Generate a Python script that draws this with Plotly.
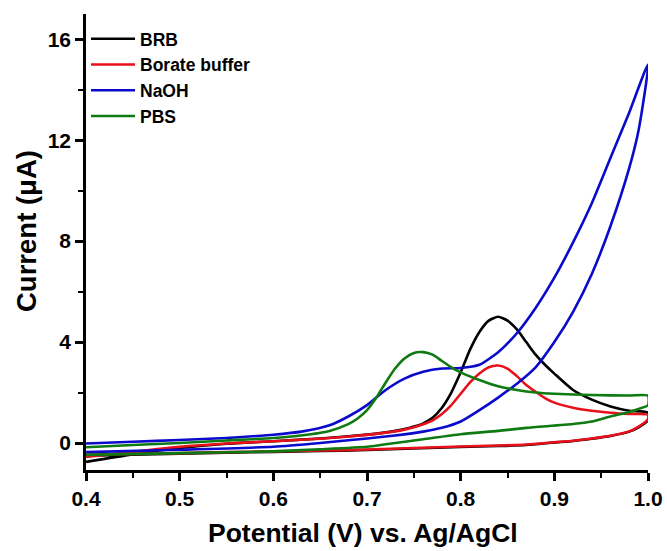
import plotly.graph_objects as go

# ---- data ----
brb_x = [0.40, 0.45, 0.50, 0.55, 0.60, 0.65, 0.70, 0.72, 0.74, 0.75, 0.76, 0.77, 0.78, 0.79, 0.80, 0.81, 0.82,
         0.83, 0.84, 0.85, 0.86, 0.87, 0.88, 0.89, 0.90, 0.92, 0.94, 0.96, 0.98, 1.00,
         1.00, 0.99, 0.98, 0.96, 0.94, 0.92, 0.90, 0.87, 0.84, 0.80, 0.75, 0.70, 0.65, 0.60, 0.55, 0.50, 0.45, 0.40]
brb_y = [-0.75, -0.45, -0.20, -0.03, 0.07, 0.18, 0.33, 0.42, 0.55, 0.65, 0.78, 1.00, 1.40, 2.00, 2.80, 3.70, 4.40,
         4.85, 5.00, 4.85, 4.50, 4.00, 3.50, 3.10, 2.75, 2.10, 1.72, 1.45, 1.28, 1.20,
         0.90, 0.62, 0.45, 0.28, 0.17, 0.08, 0.02, -0.08, -0.12, -0.16, -0.22, -0.28, -0.32, -0.35, -0.38, -0.42, -0.46, -0.50]

borate_x = [0.40, 0.45, 0.50, 0.55, 0.60, 0.65, 0.70, 0.72, 0.74, 0.75, 0.76, 0.77, 0.78, 0.79, 0.80, 0.81, 0.82,
            0.83, 0.84, 0.85, 0.86, 0.87, 0.88, 0.89, 0.90, 0.92, 0.94, 0.96, 0.98, 1.00,
            1.00, 0.99, 0.98, 0.96, 0.94, 0.92, 0.90, 0.87, 0.84, 0.80, 0.75, 0.70, 0.65, 0.60, 0.55, 0.50, 0.45, 0.40]
borate_y = [-0.55, -0.35, -0.15, -0.02, 0.07, 0.17, 0.32, 0.41, 0.53, 0.62, 0.74, 0.90, 1.15, 1.50, 1.95, 2.40, 2.75,
            3.00, 3.07, 2.95, 2.65, 2.30, 2.03, 1.78, 1.60, 1.40, 1.28, 1.20, 1.15, 1.12,
            0.95, 0.65, 0.46, 0.29, 0.18, 0.09, 0.03, -0.06, -0.10, -0.14, -0.20, -0.26, -0.30, -0.33, -0.36, -0.40, -0.43, -0.46]

naoh_x = [0.40, 0.45, 0.50, 0.55, 0.60, 0.63, 0.66, 0.68, 0.70, 0.72, 0.74, 0.76, 0.78, 0.80, 0.82, 0.84, 0.86,
          0.88, 0.90, 0.92, 0.94, 0.96, 0.98, 1.00,
          0.99, 0.98, 0.96, 0.94, 0.92, 0.90, 0.88, 0.86, 0.84, 0.82, 0.80, 0.78, 0.76, 0.73, 0.70, 0.65, 0.60,
          0.50, 0.40]
naoh_y = [-0.02, 0.05, 0.12, 0.20, 0.33, 0.45, 0.70, 1.05, 1.50, 2.10, 2.55, 2.82, 2.95, 2.97, 3.10, 3.60, 4.35,
          5.35, 6.55, 7.95, 9.50, 11.30, 13.10, 15.00,
          12.40, 10.90, 8.60, 6.70, 5.20, 4.00, 3.00, 2.35, 1.80, 1.30, 0.85, 0.60, 0.45, 0.30, 0.18, 0.00, -0.15,
          -0.27, -0.36]

pbs_x = [0.40, 0.45, 0.50, 0.55, 0.60, 0.64, 0.66, 0.68, 0.69, 0.70, 0.71, 0.72, 0.73, 0.74, 0.75, 0.76, 0.77,
         0.78, 0.79, 0.80, 0.82, 0.84, 0.86, 0.88, 0.90, 0.94, 0.98, 1.00,
         1.00, 0.99, 0.98, 0.96, 0.94, 0.92, 0.87, 0.84, 0.80, 0.76, 0.72, 0.70, 0.65, 0.60, 0.50, 0.40]
pbs_y = [-0.17, -0.08, 0.00, 0.10, 0.20, 0.35, 0.48, 0.75, 0.97, 1.30, 1.80, 2.40, 2.95, 3.35, 3.57, 3.60, 3.50,
         3.25, 3.00, 2.80, 2.50, 2.25, 2.10, 2.00, 1.95, 1.90, 1.88, 1.88,
         1.50, 1.35, 1.23, 1.05, 0.85, 0.75, 0.60, 0.48, 0.35, 0.15, -0.05, -0.15, -0.25, -0.33, -0.40, -0.47]

names = ["BRB", "Borate buffer", "NaOH", "PBS"]
colors = ["#000000", "#E8101A", "#0A0ACC", "#0E7A12"]
xs = [brb_x, borate_x, naoh_x, pbs_x]
ys = [brb_y, borate_y, naoh_y, pbs_y]

x_title = "Potential (V) vs. Ag/AgCl"
y_title = "Current (μA)"

fig = go.Figure()
for n, c, x, y in zip(names, colors, xs, ys):
    fig.add_trace(go.Scatter(x=x, y=y, mode="lines", name=n,
                             line=dict(color=c, width=2.6, shape="spline", smoothing=0.6)))

FAM = "Liberation Sans, Arial, sans-serif"
axis_font = dict(family=FAM, size=21, color="black", weight="bold")

fig.update_layout(
    width=667, height=551,
    margin=dict(l=86, r=19, t=14, b=81),
    paper_bgcolor="white", plot_bgcolor="white",
    showlegend=True,
    legend=dict(x=0.0, y=0.985, xanchor="left", yanchor="top", bgcolor="rgba(0,0,0,0)",
                font=dict(family=FAM, size=17.5, color="black", weight="bold"),
                itemwidth=44, tracegroupgap=0),
    annotations=[
        dict(text=x_title, xref="paper", yref="paper", x=0.492, y=0, yshift=-63,
             xanchor="center", yanchor="middle", showarrow=False,
             font=dict(family=FAM, size=26.5, color="black", weight="bold")),
        dict(text=y_title, xref="paper", yref="paper", x=0, xshift=-59.5, y=0.523,
             xanchor="center", yanchor="middle", showarrow=False, textangle=-90,
             font=dict(family=FAM, size=27.5, color="black", weight="bold")),
    ],
)
fig.update_xaxes(range=[0.4, 1.0], dtick=0.1, tick0=0.4, tickformat=".1f", automargin=False,
                 showline=True, linecolor="black", linewidth=2.5, mirror=False,
                 ticks="outside", ticklen=8, tickwidth=2.5, tickcolor="black",
                 minor=dict(dtick=0.05, ticks="outside", ticklen=5, tickwidth=2, tickcolor="black"),
                 showgrid=False, zeroline=False, tickfont=axis_font)
fig.update_yaxes(range=[-1.07, 17.0], tickvals=[0, 4, 8, 12, 16], automargin=False,
                 showline=True, linecolor="black", linewidth=2.5, mirror=False,
                 ticks="outside", ticklen=8, tickwidth=2.5, tickcolor="black",
                 minor=dict(tickvals=[2, 6, 10, 14], ticks="outside", ticklen=5, tickwidth=2, tickcolor="black"),
                 showgrid=False, zeroline=False, tickfont=axis_font)

fig.write_html("out.html")
